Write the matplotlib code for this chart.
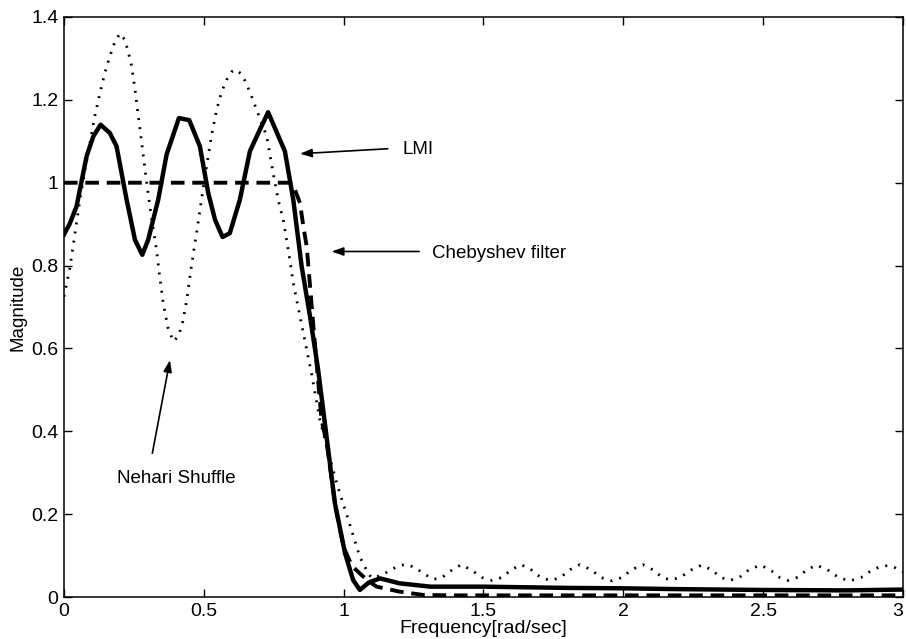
import numpy as np
import matplotlib
matplotlib.use('Agg')
import matplotlib.pyplot as plt
from matplotlib.ticker import FuncFormatter

plt.rcParams['font.family'] = ['Liberation Sans', 'DejaVu Sans']

# LMI design (solid)
lmi_x = [0.000, 0.020, 0.045, 0.081, 0.105, 0.131, 0.164, 0.188, 0.224, 0.254,
         0.280, 0.301, 0.337, 0.367, 0.411, 0.448, 0.486, 0.516, 0.540, 0.567,
         0.593, 0.629, 0.665, 0.695, 0.730, 0.790, 0.820, 0.850, 0.880, 0.909,
         0.939, 0.969, 1.005, 1.034, 1.058, 1.090, 1.130, 1.200, 1.310, 1.500,
         1.800, 2.000, 2.200, 2.500, 2.800, 3.000]
lmi_y = [0.875, 0.900, 0.943, 1.064, 1.112, 1.140, 1.120, 1.088, 0.959, 0.862,
         0.826, 0.862, 0.959, 1.068, 1.156, 1.151, 1.088, 0.975, 0.911, 0.869,
         0.878, 0.959, 1.076, 1.120, 1.170, 1.076, 0.959, 0.798, 0.677, 0.548,
         0.387, 0.226, 0.106, 0.041, 0.017, 0.035, 0.045, 0.033, 0.025, 0.025,
         0.022, 0.021, 0.019, 0.017, 0.016, 0.018]

# Chebyshev filter (dashed)
cheb_x = [0.000, 0.810, 0.826, 0.844, 0.856, 0.868, 0.880, 0.891, 0.897, 0.921,
          0.940, 0.970, 1.000, 1.030, 1.064, 1.090, 1.118, 1.200, 1.285, 1.400,
          3.000]
cheb_y = [1.000, 1.000, 0.983, 0.951, 0.895, 0.846, 0.750, 0.661, 0.613, 0.428,
          0.370, 0.220, 0.120, 0.075, 0.053, 0.038, 0.025, 0.013, 0.005, 0.004,
          0.004]

# Nehari shuffle (dotted)
neh_x = [0.000, 0.020, 0.040, 0.057, 0.075, 0.093, 0.110, 0.129, 0.146, 0.164,
         0.182, 0.200, 0.218, 0.230, 0.242, 0.254, 0.266, 0.281, 0.296, 0.313,
         0.331, 0.343, 0.355, 0.372, 0.391, 0.410, 0.425, 0.439, 0.456, 0.474,
         0.492, 0.510, 0.528, 0.546, 0.564, 0.582, 0.600, 0.615, 0.635, 0.652,
         0.671, 0.698, 0.725, 0.748, 0.766, 0.784, 0.802, 0.820, 0.844, 0.868,
         0.885, 0.915, 0.945, 0.975, 1.017, 1.058, 1.088,
         1.100, 1.135, 1.170, 1.200, 1.225, 1.255, 1.290, 1.320, 1.350, 1.385,
         1.420, 1.455, 1.495, 1.530, 1.565, 1.600, 1.635, 1.670, 1.705, 1.740,
         1.775, 1.810, 1.845, 1.885, 1.920, 1.960, 1.995, 2.030, 2.070, 2.105,
         2.140, 2.170, 2.205, 2.245, 2.280, 2.315, 2.350, 2.380, 2.415, 2.450,
         2.490, 2.525, 2.560, 2.590, 2.625, 2.655, 2.690, 2.730, 2.770, 2.810,
         2.850, 2.885, 2.920, 2.950, 2.975, 3.000]
neh_y = [0.725, 0.790, 0.880, 0.959, 1.030, 1.096, 1.160, 1.217, 1.265, 1.305,
         1.340, 1.360, 1.345, 1.315, 1.281, 1.225, 1.160, 1.080, 0.999, 0.915,
         0.838, 0.770, 0.709, 0.650, 0.617, 0.630, 0.665, 0.717, 0.800, 0.878,
         0.960, 1.040, 1.115, 1.176, 1.220, 1.249, 1.268, 1.273, 1.262, 1.240,
         1.208, 1.160, 1.112, 1.023, 0.959, 0.911, 0.838, 0.758, 0.677, 0.597,
         0.540, 0.428, 0.350, 0.275, 0.186, 0.097, 0.057,
         0.046, 0.052, 0.066, 0.076, 0.079, 0.071, 0.055, 0.043, 0.046, 0.064,
         0.078, 0.066, 0.047, 0.040, 0.047, 0.066, 0.078, 0.066, 0.047, 0.040,
         0.047, 0.066, 0.078, 0.066, 0.047, 0.039, 0.047, 0.066, 0.078, 0.066,
         0.047, 0.041, 0.048, 0.066, 0.077, 0.066, 0.047, 0.040, 0.047, 0.066,
         0.077, 0.066, 0.047, 0.040, 0.048, 0.065, 0.077, 0.066, 0.047, 0.039,
         0.047, 0.063, 0.074, 0.076, 0.070, 0.060]

x_ticks = [0, 0.5, 1, 1.5, 2, 2.5, 3]
y_ticks = [0, 0.2, 0.4, 0.6, 0.8, 1, 1.2, 1.4]

fig = plt.figure(figsize=(9.06, 6.39), dpi=100)
ax = fig.add_axes([0.0706, 0.0657, 0.926, 0.9077])

ax.plot(neh_x, neh_y, color='black', lw=2.0, linestyle=(0, (0.7, 2.6)))
ax.plot(cheb_x, cheb_y, color='black', lw=2.8, linestyle=(0, (3.5, 2.0)))
ax.plot(lmi_x, lmi_y, color='black', lw=3.2, solid_joinstyle='round')

ax.set_xlim(0, 3)
ax.set_ylim(0, 1.4)
ax.set_xticks(x_ticks)
ax.set_yticks(y_ticks)
fmt = FuncFormatter(lambda v, p: '%g' % v)
ax.xaxis.set_major_formatter(fmt)
ax.yaxis.set_major_formatter(fmt)
ax.tick_params(direction='in', length=6, width=1, top=True, right=True,
               labelsize=14, pad=4)
for s in ax.spines.values():
    s.set_linewidth(1.1)
# last x label sits at the right edge of the figure
ax.get_xticklabels()[-1].set_horizontalalignment('right')

ax.set_xlabel('Frequency[rad/sec]', fontsize=14, labelpad=0)
ax.set_ylabel('Magnitude', fontsize=13.5, labelpad=3)

arrow = dict(arrowstyle='-|>,head_length=0.7,head_width=0.25', color='black',
             lw=1.2, shrinkA=0, shrinkB=0)
ax.annotate('', xy=(0.844, 1.070), xytext=(1.158, 1.082), arrowprops=arrow)
ax.text(1.212, 1.080, 'LMI', fontsize=13.5, va='center', ha='left')

ax.annotate('', xy=(0.957, 0.834), xytext=(1.270, 0.834), arrowprops=arrow)
ax.text(1.315, 0.830, 'Chebyshev filter', fontsize=13.5, va='center', ha='left')

ax.annotate('', xy=(0.379, 0.572), xytext=(0.316, 0.347), arrowprops=arrow)
ax.text(0.188, 0.285, 'Nehari Shuffle', fontsize=13.5, va='center', ha='left')

fig.savefig('out.png', dpi=100)
